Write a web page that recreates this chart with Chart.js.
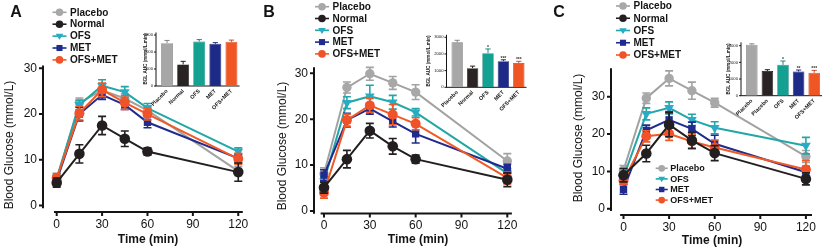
<!DOCTYPE html>
<html>
<head>
<meta charset="utf-8">
<script src="https://cdn.jsdelivr.net/npm/chart.js@4.4.1/dist/chart.umd.min.js"></script>
<style>
  html, body { margin: 0; padding: 0; background: #fff; }
  #wrap { position: relative; width: 829px; height: 252px; overflow: hidden; }
  #wrap canvas { position: absolute; left: 0; top: 0; }
</style>
</head>
<body>
<div id="wrap">
  <canvas id="lineA" width="829" height="252"></canvas>
  <canvas id="lineB" width="829" height="252"></canvas>
  <canvas id="lineC" width="829" height="252"></canvas>
  <canvas id="aucA" width="829" height="252"></canvas>
  <canvas id="aucB" width="829" height="252"></canvas>
  <canvas id="aucC" width="829" height="252"></canvas>
</div>
<script>
// DATA
const timePoints = [0, 15, 30, 45, 60, 120];
const groupNames = ['Placebo', 'Normal', 'OFS', 'MET', 'OFS+MET'];
const yTicksMain = [0, 10, 20, 30];
const xTicksMain = [0, 30, 60, 90, 120];
const aucTicks = [0, 1000, 2000, 3000];
const aucLabelsAB = ['Placebo', 'Normal', 'OFS', 'MET', 'OFS+MET'];
const aucLabelsC = ['Placebo', 'Placebo', 'OFS', 'MET', 'OFS+MET'];

// panel A
const placeboA = [5.5, 22.5, 25.2, 23.4, 20.8, 7.5];
const placeboErrA = [1.3, 1.0, 1.2, 1.0, 1.0, 1.0];
const normalA = [5.0, 11.3, 17.5, 14.6, 11.8, 7.3];
const normalErrA = [1.0, 2.0, 2.0, 1.7, 0.8, 2.0];
const ofsA = [6.0, 22.0, 26.2, 24.8, 21.3, 11.8];
const ofsErrA = [1.0, 1.0, 1.3, 1.2, 1.0, 0.8];
const metA = [5.5, 20.0, 24.2, 22.0, 18.2, 10.3];
const metErrA = [1.0, 1.5, 1.0, 1.0, 1.2, 1.0];
const ofsMetA = [6.0, 20.2, 25.3, 22.5, 20.0, 10.2];
const ofsMetErrA = [1.0, 1.5, 1.5, 1.5, 1.3, 1.2];
const aucA = [2520, 1270, 2620, 2480, 2600];
const aucErrA = [160, 180, 110, 70, 100];
const aucStarsA = ['', '', '', '', ''];

// panel B
const placeboB = [8.1, 26.9, 29.9, 27.9, 25.9, 10.9];
const placeboErrB = [1.3, 1.2, 1.4, 1.4, 1.6, 1.6];
const normalB = [5.1, 11.3, 17.5, 14.1, 11.3, 6.8];
const normalErrB = [1.2, 1.9, 1.6, 1.7, 0.9, 1.5];
const ofsB = [6.5, 23.6, 25.0, 23.7, 21.5, 8.2];
const ofsErrB = [1.0, 1.3, 2.4, 1.5, 0.8, 1.0];
const metB = [7.8, 19.8, 22.3, 19.5, 16.8, 9.2];
const metErrB = [1.2, 1.5, 1.2, 1.2, 2.0, 1.0];
const ofsMetB = [4.0, 19.8, 23.0, 21.0, 19.0, 7.2];
const ofsMetErrB = [1.2, 1.3, 1.5, 2.2, 1.3, 1.3];
const aucB = [2700, 1150, 2050, 1570, 1460];
const aucErrB = [120, 120, 250, 80, 100];
const aucStarsB = ['', '', '*', '***', '***'];

// panel C
const placeboC = [10.3, 29.6, 34.9, 31.6, 28.4, 14.0];
const placeboErrC = [1.3, 1.4, 2.0, 2.3, 1.2, 1.6];
const normalC = [9.0, 14.8, 22.5, 18.3, 14.9, 8.0];
const normalErrC = [1.8, 2.2, 3.2, 2.1, 2.0, 1.6];
const ofsC = [8.5, 25.4, 27.0, 23.8, 21.7, 16.9];
const ofsErrC = [1.2, 1.6, 1.6, 1.5, 1.6, 2.2];
const metC = [5.2, 21.0, 23.8, 21.4, 17.4, 9.8];
const metErrC = [1.3, 1.4, 2.2, 1.8, 2.3, 1.6];
const ofsMetC = [7.5, 19.4, 20.1, 18.0, 16.4, 10.5];
const ofsMetErrC = [1.0, 1.5, 1.8, 2.0, 2.0, 2.4];
const aucC = [3050, 1480, 1850, 1450, 1370];
const aucErrC = [60, 80, 230, 90, 150];
const aucStarsC = ['', '', '*', '**', '***'];

// STILI
const NARROW = "'Liberation Sans Narrow', 'Arial Narrow', 'Liberation Sans', Arial, sans-serif";
const WIDE = "'Liberation Sans', Arial, sans-serif";
const INK = '#141414';

const STY = {
  'Placebo': { line: '#a2a2a2', fill: '#a8a8a8', shape: 'circle', rot: 0, r: 4.7, order: 4 },
  'Normal': { line: '#231f20', fill: '#231f20', shape: 'circle', rot: 0, r: 5.3, order: 0 },
  'OFS': { line: '#22a7a7', fill: '#28acc6', shape: 'triangle', rot: 180, r: 5.6, order: 3 },
  'MET': { line: '#1f2b8e', fill: '#1f2b8e', shape: 'rect', rot: 0, r: 5.2, order: 2 },
  'OFS+MET': { line: '#f15a24', fill: '#f0522a', shape: 'circle', rot: 0, r: 5.0, order: 1 }
};
const BAR_FILL = ['#a7a7a7', '#2a2324', '#14a192', '#1d2a88', '#f05623'];
const BAR_EDGE = ['#7a7a7a', '#0d0b0b', '#0b7c70', '#0f1864', '#c33e18'];

// layout (pixel)
const MAIN = {
  A: { boxLeft: 0, left: 43, right: 246, top: 60, bottom: 212, x0: 56.7, xPer: 1.513, y0: 205.5, yPer: 4.573, yTop: 30.6, xFrom: -1.8, xTo: 123 },
  B: { boxLeft: 262, left: 314, right: 515, top: 60, bottom: 213.5, x0: 324, xPer: 1.5275, y0: 211, yPer: 4.59, yTop: 31.3, xFrom: -2.2, xTo: 123 },
  C: { boxLeft: 550, left: 611, right: 815, top: 60, bottom: 215, x0: 623.5, xPer: 1.52, y0: 208.8, yPer: 3.737, yTop: 37.6, xFrom: -2.2, xTo: 124 }
};
const INSET = {
  A: { left: 159, right: 239.5, bottom: 86, yPer: 0.017, max: 3150, titleX: 146, titleY: 59 },
  B: { left: 449.5, right: 526.5, bottom: 87.3, yPer: 0.01667, max: 3150, titleX: 428.5, titleY: 61 },
  C: { left: 744, right: 822, bottom: 95.7, yPer: 0.01667, max: 3200, titleX: 728.5, titleY: 69 }
};

// PLUGIN: barre di errore + asterischi
const errorBars = {
  id: 'errorBars',
  beforeDatasetDraw(chart, args) {
    const ds = chart.data.datasets[args.index];
    if (!ds.errors) return;
    const ctx = chart.ctx, y = chart.scales.y;
    ctx.save();
    ctx.strokeStyle = ds.errColor || ds.borderColor;
    ctx.lineWidth = ds.errWidth || 1.6;
    args.meta.data.forEach((el, i) => {
      const raw = ds.data[i];
      const v = typeof raw === 'object' ? raw.y : raw;
      const e = ds.errors[i];
      const colr = Array.isArray(ds.errColor) ? ds.errColor[i] : null;
      if (colr) ctx.strokeStyle = colr;
      const cap = ds.capHalf || 4;
      const top = y.getPixelForValue(v + e);
      const bot = ds.errUpOnly ? y.getPixelForValue(v) : y.getPixelForValue(v - e);
      ctx.beginPath();
      ctx.moveTo(el.x, top); ctx.lineTo(el.x, bot);
      ctx.moveTo(el.x - cap, top); ctx.lineTo(el.x + cap, top);
      if (!ds.errUpOnly) { ctx.moveTo(el.x - cap, bot); ctx.lineTo(el.x + cap, bot); }
      ctx.stroke();
    });
    ctx.restore();
  },
  afterDatasetDraw(chart, args) {
    const ds = chart.data.datasets[args.index];
    if (!ds.stars) return;
    const ctx = chart.ctx, y = chart.scales.y;
    ctx.save();
    ctx.fillStyle = '#333';
    ctx.font = 'bold 5px ' + NARROW;
    ctx.textAlign = 'center';
    ctx.textBaseline = 'bottom';
    args.meta.data.forEach((el, i) => {
      if (!ds.stars[i]) return;
      const v = ds.data[i] + ds.errors[i];
      ctx.fillText(ds.stars[i], el.x, y.getPixelForValue(v) + 1);
    });
    ctx.restore();
  }
};

// PLUGIN: assi stile Prism (staccati)
const prismAxes = {
  id: 'prismAxes',
  beforeDatasetsDraw(chart, args, o) {
    if (!o || !o.on) return;
    const { ctx, chartArea: ca } = chart;
    const x = chart.scales.x, y = chart.scales.y;
    ctx.save();
    ctx.strokeStyle = INK;
    ctx.lineWidth = o.lw;
    const ax = ca.left - o.yGap;
    ctx.beginPath();
    ctx.moveTo(ax, y.getPixelForValue(o.yTo));
    ctx.lineTo(ax, y.getPixelForValue(o.yFrom));
    y.ticks.forEach(t => {
      const p = y.getPixelForValue(t.value);
      ctx.moveTo(ax - o.tick, p); ctx.lineTo(ax, p);
    });
    const ay = ca.bottom + o.xGap;
    const x0 = o.xFrom === undefined ? ax - o.lw / 2 : x.getPixelForValue(o.xFrom);
    const x1 = o.xTo === undefined ? ca.right : x.getPixelForValue(o.xTo);
    ctx.moveTo(x0, ay); ctx.lineTo(x1, ay);
    if (o.xTicks) {
      x.ticks.forEach(t => {
        const p = x.getPixelForValue(t.value);
        ctx.moveTo(p, ay); ctx.lineTo(p, ay + o.tick);
      });
    }
    ctx.stroke();
    ctx.restore();
  }
};

function drawMark(ctx, st, x, y, r) {
  ctx.fillStyle = st.fill;
  ctx.beginPath();
  if (st.shape === 'circle') ctx.arc(x, y, r, 0, Math.PI * 2);
  else if (st.shape === 'rect') ctx.rect(x - r * 0.8, y - r * 0.8, r * 1.6, r * 1.6);
  else { ctx.moveTo(x - r, y - r * 0.6); ctx.lineTo(x + r, y - r * 0.6); ctx.lineTo(x, y + r * 0.95); ctx.closePath(); }
  ctx.fill();
}

// PLUGIN: legenda con marker
const markLegend = {
  id: 'markLegend',
  afterDraw(chart, args, o) {
    if (!o || !o.lists) return;
    const ctx = chart.ctx;
    o.lists.forEach(L => {
      L.names.forEach((name, i) => {
        const st = STY[name];
        const y = L.y + i * L.dy;
        ctx.save();
        ctx.strokeStyle = st.line;
        ctx.lineWidth = 1.6;
        ctx.beginPath();
        ctx.moveTo(L.x - L.half, y); ctx.lineTo(L.x + L.half, y);
        ctx.stroke();
        drawMark(ctx, st, L.x, y, L.r);
        ctx.fillStyle = INK;
        ctx.font = L.font;
        ctx.textAlign = 'left';
        ctx.textBaseline = 'middle';
        ctx.fillText(name, L.x + L.gap, y + 0.5);
        ctx.restore();
      });
    });
  }
};

// PLUGIN: testi liberi (titoli assi, lettere pannello)
const panelText = {
  id: 'panelText',
  afterDraw(chart, args, o) {
    if (!o || !o.items) return;
    const ctx = chart.ctx;
    o.items.forEach(t => {
      ctx.save();
      ctx.translate(t.x, t.y);
      if (t.rot) ctx.rotate(t.rot);
      ctx.fillStyle = INK;
      ctx.font = t.font;
      ctx.textAlign = 'center';
      ctx.textBaseline = 'middle';
      ctx.fillText(t.text, 0, 0);
      ctx.restore();
    });
  }
};

function lineSet(name, vals, errs) {
  const st = STY[name];
  return {
    label: name,
    data: timePoints.map((t, i) => ({ x: t, y: vals[i] })),
    errors: errs,
    borderColor: st.line,
    backgroundColor: st.fill,
    pointBackgroundColor: st.fill,
    pointBorderColor: st.fill,
    pointBorderWidth: 0,
    pointStyle: st.shape,
    pointRotation: st.rot,
    pointRadius: st.r,
    borderWidth: 2,
    tension: 0,
    fill: false,
    order: st.order
  };
}

function mainChart(id, P, sets, letter, letterX, yTitleX, yTitleY, timeX, timeY, legends) {
  const xmin = (P.left - P.x0) / P.xPer, xmax = (P.right - P.x0) / P.xPer;
  const ymin = (P.y0 - P.bottom) / P.yPer, ymax = (P.y0 - P.top) / P.yPer;
  return new Chart(document.getElementById(id), {
    type: 'line',
    data: { datasets: sets },
    options: {
      responsive: false, animation: false, devicePixelRatio: 1,
      layout: { padding: { left: P.boxLeft, top: P.top, right: 829 - P.right, bottom: 0 } },
      plugins: {
        legend: { display: false }, tooltip: { enabled: false },
        prismAxes: { on: true, lw: 2, tick: 4, yGap: 0, xGap: 0, yFrom: -0.6, yTo: P.yTop, xFrom: P.xFrom, xTo: P.xTo, xTicks: true },
        markLegend: { lists: legends },
        panelText: { items: [
          { text: letter, x: letterX, y: 13, font: 'bold 16px ' + WIDE },
          { text: 'Blood Glucose (mmol/L)', x: yTitleX, y: yTitleY, rot: -Math.PI / 2, font: '12px ' + WIDE },
          { text: 'Time (min)', x: timeX, y: timeY, font: 'bold 12px ' + NARROW }
        ] }
      },
      scales: {
        x: {
          type: 'linear', min: xmin, max: xmax,
          grid: { display: false, drawTicks: false }, border: { display: false },
          afterBuildTicks: s => { s.ticks = xTicksMain.map(v => ({ value: v })); },
          afterFit: s => { s.height = 252 - P.bottom; },
          ticks: { autoSkip: false, maxRotation: 0, padding: 5, color: INK, font: { family: NARROW, size: 12 }, callback: v => String(v) }
        },
        y: {
          type: 'linear', min: ymin, max: ymax,
          grid: { display: false, drawTicks: false }, border: { display: false },
          afterBuildTicks: s => { s.ticks = yTicksMain.map(v => ({ value: v })); },
          afterFit: s => { s.width = P.left - P.boxLeft; },
          ticks: { padding: 6, color: INK, font: { family: NARROW, size: 12 }, callback: v => String(v) }
        }
      }
    },
    plugins: [errorBars, prismAxes, markLegend, panelText]
  });
}

function aucChart(id, I, labels, vals, errs, stars) {
  const top = I.bottom - I.max * I.yPer;
  return new Chart(document.getElementById(id), {
    type: 'bar',
    data: {
      labels: labels,
      datasets: [{
        data: vals, errors: errs, stars: stars, errUpOnly: true,
        errColor: BAR_EDGE, errWidth: 0.9, capHalf: 2.6,
        backgroundColor: BAR_FILL, borderColor: BAR_EDGE, borderWidth: 0.7,
        barPercentage: 0.74, categoryPercentage: 1
      }]
    },
    options: {
      responsive: false, animation: false, devicePixelRatio: 1,
      layout: { padding: { left: I.left - 20, top: top, right: 829 - I.right, bottom: 0 } },
      plugins: {
        legend: { display: false }, tooltip: { enabled: false },
        prismAxes: { on: true, lw: 1, tick: 2, yGap: 3, xGap: 0, yFrom: 0, yTo: I.max, xTicks: false },
        panelText: { items: [
          { text: 'BGL AUC (mmol/L.min)', x: I.titleX, y: I.titleY, rot: -Math.PI / 2, font: 'bold 4.6px ' + NARROW }
        ] }
      },
      scales: {
        x: {
          type: 'category', offset: true,
          grid: { display: false, drawTicks: false }, border: { display: false },
          afterFit: s => { s.height = 252 - I.bottom; },
          ticks: { autoSkip: false, minRotation: 45, maxRotation: 45, padding: 2, color: INK, font: { family: NARROW, size: 5.5, weight: 'bold' } }
        },
        y: {
          type: 'linear', min: 0, max: I.max,
          grid: { display: false, drawTicks: false }, border: { display: false },
          afterBuildTicks: s => { s.ticks = aucTicks.map(v => ({ value: v })); },
          afterFit: s => { s.width = 20; },
          ticks: { padding: 6, color: INK, font: { family: NARROW, size: 4.2 }, callback: v => String(v) }
        }
      }
    },
    plugins: [errorBars, prismAxes, panelText]
  });
}

const legendFont = 'bold 10px ' + NARROW;

mainChart('lineA', MAIN.A, [
  lineSet('Placebo', placeboA, placeboErrA),
  lineSet('Normal', normalA, normalErrA),
  lineSet('OFS', ofsA, ofsErrA),
  lineSet('MET', metA, metErrA),
  lineSet('OFS+MET', ofsMetA, ofsMetErrA)
], 'A', 16, 10, 145, 148, 239.5,
  [{ names: groupNames, x: 59.5, y: 12.3, dy: 11.9, r: 3.8, half: 7, gap: 10.5, font: legendFont }]);

mainChart('lineB', MAIN.B, [
  lineSet('Placebo', placeboB, placeboErrB),
  lineSet('Normal', normalB, normalErrB),
  lineSet('OFS', ofsB, ofsErrB),
  lineSet('MET', metB, metErrB),
  lineSet('OFS+MET', ofsMetB, ofsMetErrB)
], 'B', 269, 283, 146, 418, 239.5,
  [{ names: groupNames, x: 322, y: 6.7, dy: 11.8, r: 3.8, half: 7, gap: 10.5, font: legendFont }]);

mainChart('lineC', MAIN.C, [
  lineSet('Placebo', placeboC, placeboErrC),
  lineSet('Normal', normalC, normalErrC),
  lineSet('OFS', ofsC, ofsErrC),
  lineSet('MET', metC, metErrC),
  lineSet('OFS+MET', ofsMetC, ofsMetErrC)
], 'C', 559, 578.5, 138, 712, 241,
  [{ names: groupNames, x: 623, y: 6, dy: 12.25, r: 3.8, half: 7, gap: 10.5, font: legendFont },
   { names: ['Placebo', 'OFS', 'MET', 'OFS+MET'], x: 661.7, y: 168.3, dy: 10.6, r: 3.4, half: 6, gap: 8.5, font: 'bold 9px ' + NARROW }]);

aucChart('aucA', INSET.A, aucLabelsAB, aucA, aucErrA, aucStarsA);
aucChart('aucB', INSET.B, aucLabelsAB, aucB, aucErrB, aucStarsB);
aucChart('aucC', INSET.C, aucLabelsC, aucC, aucErrC, aucStarsC);
</script>
</body>
</html>
